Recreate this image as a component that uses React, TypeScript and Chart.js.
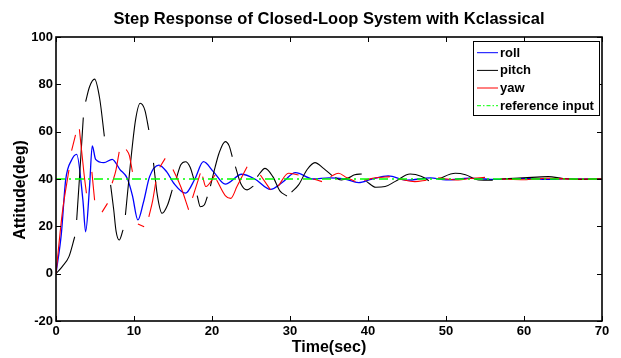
import { useEffect, useRef } from "react";
import { Chart, registerables } from "chart.js";
Chart.register(...registerables);

const TITLE = "Step Response of Closed-Loop System with Kclassical";
const X_LABEL = "Time(sec)";
const Y_LABEL = "Attitude(deg)";
const SERIES_NAMES = ["roll", "pitch", "yaw", "reference input"];
const SERIES_COLORS = ["#0000ff", "#000000", "#ff0000", "#00ff00"];
const X_TICKS = [0, 10, 20, 30, 40, 50, 60, 70];
const Y_TICKS = [-20, 0, 20, 40, 60, 80, 100];

const rollT = [0, 0.69, 1.24, 2.0, 2.65, 3.45, 3.8, 4.3, 4.65, 5.08, 6.15, 7.2, 8.2, 9.13, 9.8, 10.5, 11.2, 12.0, 13.2, 14.2, 15.1, 16.6, 17.8, 18.9, 20.2, 21.7, 23.8, 25.5, 27.5, 29.0, 30.7, 33, 35, 37, 38.8, 40.5, 42.6, 45, 48, 50, 53, 56, 60, 63, 66, 70];
const rollY = [0, 17, 39.6, 48, 50.4, 31, 17.7, 36.7, 54, 48.3, 46.9, 48.3, 44, 40.3, 33, 22.7, 30, 41, 45.9, 43, 38.2, 34, 40, 47.3, 43, 37.8, 42, 40, 35.6, 38.5, 42.7, 40, 40.5, 40, 38.5, 40, 41.3, 39.5, 40.5, 39.6, 40.4, 39.8, 40.3, 39.8, 40.2, 40];

const pitchT = [0, 0.8, 1.66, 2.4, 2.5, 2.65, 3.0, 3.5, 3.6, 3.8, 4.3, 4.95, 5.6, 6.2, 6.6, 7.0, 7.4, 7.7, 8.1, 8.6, 8.7, 8.9, 9.5, 10.2, 10.8, 11.4, 11.9, 12.2, 12.5, 13.0, 13.6, 14.3, 14.9, 15.1, 15.4, 16.0, 16.6, 17.2, 17.7, 17.9, 18.1, 18.5, 19.0, 19.4, 19.6, 19.8, 20.4, 20.9, 21.7, 22.2, 22.6, 22.8, 23.0, 23.7, 24.5, 25.3, 25.5, 25.8, 26.8, 27.8, 28.7, 29.6, 29.9, 30.2, 31.1, 32.2, 33.2, 34.3, 35.4, 35.6, 35.8, 36.6, 37.5, 38.3, 39.2, 39.5, 39.8, 41, 42.2, 43.5, 45.4, 46.8, 47.8, 48.4, 49, 51.2, 52.5, 54.2, 56, 56.5, 57, 60, 63.1, 65, 67, 70];
const pitchY = [0, 3, 7.2, 15.6, null, 22.7, 40, 66, null, 72.7, 79, 82.2, 74, 58, null, 37.5, 27, 18, 14.2, 18.5, null, 24.8, 45, 65, 72, 69, 60.7, null, 46.8, 33, 25.5, 29, 35.4, null, 40, 46, 47.3, 45, 39.6, null, 33, 28.3, 29, 32.5, null, 37, 45, 50.9, 55.8, 54, 49.4, null, 45.2, 38, 35.4, 37, null, 41, 44.5, 41, 35, 32.8, null, 34.5, 37.5, 44, 46.9, 44.5, 41.4, null, 40.5, 39.6, 40.5, 41.8, 42.1, null, 39, 36.5, 36.8, 39, 42.1, 41.2, 39.3, null, 40, 42.4, 41.8, 39.6, 39.5, null, 40, 40.5, 41, 40.2, 39.8, 40.1];

const yawT = [0, 0.8, 1.66, 1.8, 2.0, 2.5, 2.8, 3.0, 3.6, 3.9, 4.2, 4.6, 4.95, 5.4, 5.9, 6.6, 6.9, 7.2, 7.7, 8.1, 8.5, 9.0, 9.4, 9.8, 10.1, 10.5, 11.3, 11.6, 11.9, 12.4, 12.8, 13.0, 13.3, 14.0, 14.5, 15.0, 16.0, 17.0, 17.2, 17.5, 18.5, 18.6, 18.8, 19.2, 20.4, 20.5, 20.6, 21.7, 22.4, 23.2, 24.5, 25.3, 26.2, 27.5, 28.0, 28.5, 29.8, 31.1, 31.6, 33, 34.1, 34.6, 35.2, 36.2, 37.3, 38.4, 38.9, 39.5, 41, 42.8, 43.4, 44, 46, 47.5, 48.2, 49, 51.6, 53, 55, 56, 57, 60, 63, 66, 70];
const yawY = [0, 25.5, 43.8, null, 52, 58.6, null, 61, 42, 34, null, 43, 31, null, 26, 29.7, null, 38.2, 44, 51.5, null, 52.5, 50, 43, null, 21, 19.8, null, 24, 31, 38.9, null, 45, 48.7, null, 44, 36.7, 27, null, 32, 42.4, null, 41, 36.8, 41.7, null, 39.6, 33, 31.8, 36.8, 45.2, null, 41.7, 35.4, null, 37, 42.4, 41.7, null, 40, 38.9, null, 41, 42.4, 40.5, 38.9, null, 39.5, 40.5, 41, null, 40, 38.9, 39.5, null, 40.5, 39.6, 40.2, 40.7, null, 40, 39.7, 40.3, 40, 40];

const refT = [0, 70];
const refY = [40, 40];

const FONT = "'Liberation Sans', Arial, Helvetica, sans-serif";

function pts(t: number[], y: (number | null)[]) {
  return t.map((v, i) => ({ x: v, y: y[i] }));
}

const framePlugin = {
  id: "frame",
  afterDraw(chart: any) {
    const { ctx, chartArea, scales } = chart;
    const { left, right, top, bottom } = chartArea;
    const xs = scales.x;
    const ys = scales.y;
    ctx.save();
    ctx.strokeStyle = "#000";
    ctx.lineWidth = 1;
    const line = (x1: number, y1: number, x2: number, y2: number) => {
      ctx.beginPath();
      ctx.moveTo(x1, y1);
      ctx.lineTo(x2, y2);
      ctx.stroke();
    };
    X_TICKS.forEach((v) => {
      const px = Math.round(xs.getPixelForValue(v)) + 0.5;
      line(px, bottom, px, bottom - 5);
      line(px, top, px, top + 5);
    });
    Y_TICKS.forEach((v) => {
      const py = Math.round(ys.getPixelForValue(v)) + 0.5;
      line(left, py, left + 5, py);
      line(right, py, right - 5, py);
    });
    ctx.lineWidth = 1.6;
    ctx.strokeRect(left, top, right - left, bottom - top);

    ctx.fillStyle = "#000";
    ctx.textAlign = "center";
    ctx.textBaseline = "middle";
    ctx.font = `bold 16.5px ${FONT}`;
    ctx.fillText(TITLE, (left + right) / 2, 19);
    ctx.font = `bold 16px ${FONT}`;
    ctx.fillText(X_LABEL, (left + right) / 2, 348);
    ctx.save();
    ctx.translate(21, (top + bottom) / 2 + 11);
    ctx.rotate(-Math.PI / 2);
    ctx.fillText(Y_LABEL, 0, 0);
    ctx.restore();

    // legend box
    const lx = 473, ly = 41, lw = 126, lh = 74;
    ctx.fillStyle = "#fff";
    ctx.fillRect(lx, ly, lw, lh);
    ctx.lineWidth = 1;
    ctx.strokeStyle = "#000";
    ctx.strokeRect(lx + 0.5, ly + 0.5, lw, lh);
    const rowY = [52.7, 70.4, 88, 105.7];
    ctx.font = `bold 13px ${FONT}`;
    ctx.textAlign = "left";
    SERIES_NAMES.forEach((name, i) => {
      ctx.strokeStyle = SERIES_COLORS[i];
      ctx.lineWidth = 1;
      ctx.setLineDash(i === 3 ? [4, 2, 1.5, 2] : []);
      line(477, rowY[i], 498, rowY[i]);
      ctx.setLineDash([]);
      ctx.fillStyle = "#000";
      ctx.fillText(name, 500, rowY[i] + 0.5);
    });
    ctx.restore();
  },
};

export default function App() {
  const ref = useRef<HTMLCanvasElement | null>(null);
  useEffect(() => {
    document.body.style.margin = "0";
    const canvas = ref.current;
    if (!canvas) return;
    const tickFont = { family: FONT, size: 13, weight: "bold" as const };
    const chart = new Chart(canvas, {
      type: "line",
      data: {
        datasets: [
          { label: SERIES_NAMES[0], data: pts(rollT, rollY), borderColor: SERIES_COLORS[0], borderWidth: 1.3, pointRadius: 0, cubicInterpolationMode: "monotone", order: 3 },
          { label: SERIES_NAMES[1], data: pts(pitchT, pitchY), borderColor: SERIES_COLORS[1], borderWidth: 1.1, pointRadius: 0, cubicInterpolationMode: "monotone", spanGaps: false, order: 2 },
          { label: SERIES_NAMES[2], data: pts(yawT, yawY), borderColor: SERIES_COLORS[2], borderWidth: 1.1, pointRadius: 0, cubicInterpolationMode: "monotone", spanGaps: false, order: 1 },
          { label: SERIES_NAMES[3], data: pts(refT, refY), borderColor: SERIES_COLORS[3], borderWidth: 1.3, pointRadius: 0, borderDash: [9, 4, 2, 4], order: 0 },
        ] as any,
      },
      options: {
        animation: false,
        responsive: false,
        maintainAspectRatio: false,
        layout: { padding: { top: 37, right: 19, left: 0, bottom: 0 } },
        plugins: { legend: { display: false }, tooltip: { enabled: false }, title: { display: false } },
        scales: {
          x: {
            type: "linear",
            min: 0,
            max: 70,
            afterFit: (s: any) => { s.height = 37; },
            afterBuildTicks: (s: any) => { s.ticks = X_TICKS.map((v) => ({ value: v })); },
            ticks: { font: tickFont, color: "#000", padding: 3, maxRotation: 0, autoSkip: false },
            grid: { display: false, drawTicks: false },
            border: { display: false },
          },
          y: {
            type: "linear",
            min: -20,
            max: 100,
            afterFit: (s: any) => { s.width = 56; },
            afterBuildTicks: (s: any) => { s.ticks = Y_TICKS.map((v) => ({ value: v })); },
            ticks: { font: tickFont, color: "#000", padding: 3, autoSkip: false },
            grid: { display: false, drawTicks: false },
            border: { display: false },
          },
        },
      },
      plugins: [framePlugin],
    });
    return () => chart.destroy();
  }, []);
  return (
    <div style={{ width: 621, height: 358 }}>
      <canvas ref={ref} width={621} height={358} style={{ display: "block" }} />
    </div>
  );
}
